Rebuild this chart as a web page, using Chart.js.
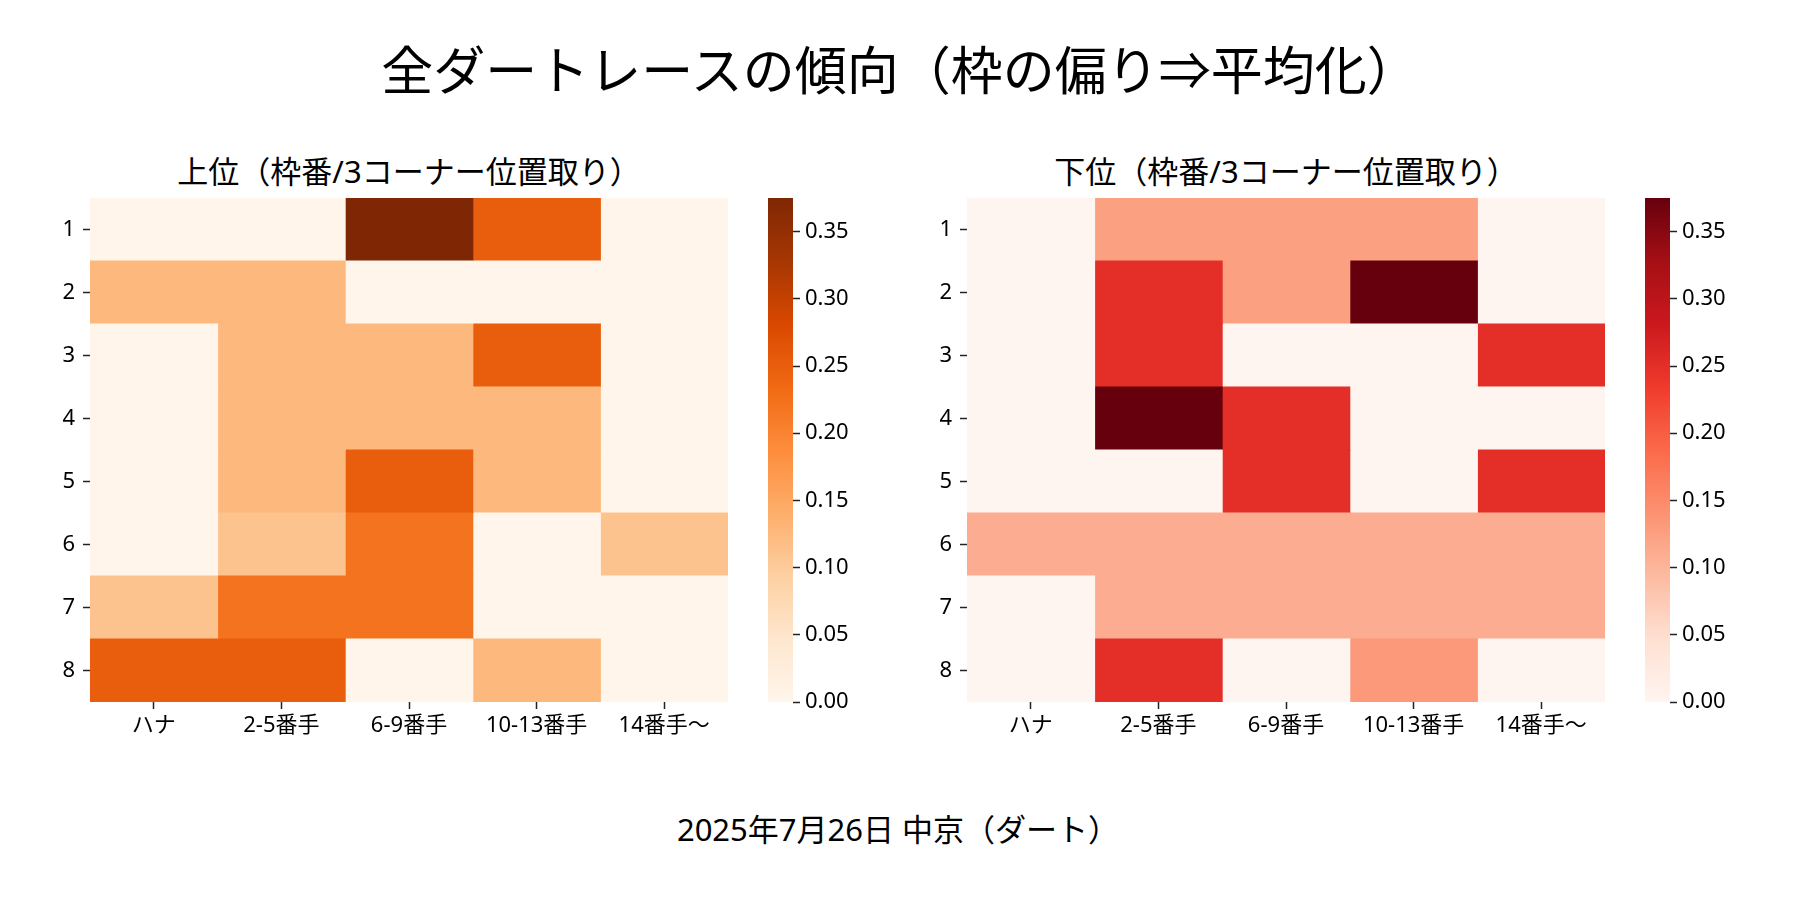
<!DOCTYPE html>
<html>
<head>
<meta charset="utf-8">
<script src="https://cdn.jsdelivr.net/npm/chart.js@4.4.1/dist/chart.umd.min.js"></script>
<style>
  body { margin: 0; background: #fff; font-family: 'Noto Sans', 'Noto Sans CJK JP', sans-serif; }
  #page { position: relative; width: 1800px; height: 900px; overflow: hidden; }
  .box { position: absolute; }
  .box canvas { display: block; }
  .txt { position: absolute; color: #000; white-space: nowrap; transform: translate(-50%, -50%); line-height: 1; }
</style>
</head>
<body>
<div id="page">
  <div class="txt" style="left:900px; top:70px; font-size:52px;">全ダートレースの傾向（枠の偏り⇒平均化）</div>
  <div class="txt" style="left:409px; top:171px; font-size:31px;">上位（枠番/3コーナー位置取り）</div>
  <div class="txt" style="left:1286px; top:171px; font-size:31px;">下位（枠番/3コーナー位置取り）</div>
  <div class="txt" style="left:898px; top:829px; font-size:31px;">2025年7月26日 中京（ダート）</div>

  <div class="box" style="left:20px; top:188px;"><canvas id="heatTop" width="738" height="574"></canvas></div>
  <div class="box" style="left:758px; top:183px;"><canvas id="barTop" width="120" height="534"></canvas></div>
  <div class="box" style="left:897px; top:188px;"><canvas id="heatBottom" width="738" height="574"></canvas></div>
  <div class="box" style="left:1635px; top:183px;"><canvas id="barBottom" width="120" height="534"></canvas></div>
</div>
<script>
// 行（枠番）と列（3コーナー位置取り）
const rowLabels = ['1', '2', '3', '4', '5', '6', '7', '8'];
const colLabels = ['ハナ', '2-5番手', '6-9番手', '10-13番手', '14番手〜'];

// 上位
const topValues = [
    [0, 0, 0.375, 0.25, 0],
    [0.125, 0.125, 0, 0, 0],
    [0, 0.125, 0.125, 0.25, 0],
    [0, 0.125, 0.125, 0.125, 0],
    [0, 0.125, 0.25, 0.125, 0],
    [0, 0.111, 0.222, 0, 0.111],
    [0.111, 0.222, 0.222, 0, 0],
    [0.25, 0.25, 0, 0.125, 0]
];

// 下位
const bottomValues = [
    [0, 0.125, 0.125, 0.125, 0],
    [0, 0.25, 0.125, 0.375, 0],
    [0, 0.25, 0, 0, 0.25],
    [0, 0.375, 0.25, 0, 0],
    [0, 0, 0.25, 0, 0.25],
    [0.111, 0.111, 0.111, 0.111, 0.111],
    [0, 0.111, 0.111, 0.111, 0.111],
    [0, 0.25, 0, 0.133, 0]
];

const colorbarStep = 0.05;

const oranges = ['#fff5eb', '#fee6ce', '#fdd0a2', '#fdae6b', '#fd8d3c', '#f16913', '#d94801', '#a63603', '#7f2704'];
const reds = ['#fff5f0', '#fee0d2', '#fcbba1', '#fc9272', '#fb6a4a', '#ef3b2c', '#cb181d', '#a50f15', '#67000d'];

function hexToRgb(h) {
    return [parseInt(h.slice(1, 3), 16), parseInt(h.slice(3, 5), 16), parseInt(h.slice(5, 7), 16)];
}

function cmap(stops, t) {
    t = Math.max(0, Math.min(1, t));
    const p = t * (stops.length - 1);
    const i = Math.min(Math.floor(p), stops.length - 2);
    const f = p - i;
    const a = hexToRgb(stops[i]), b = hexToRgb(stops[i + 1]);
    const c = a.map((v, k) => Math.round(v + (b[k] - v) * f));
    return 'rgb(' + c.join(',') + ')';
}

const font = { family: "'Noto Sans', 'Noto Sans CJK JP', sans-serif", size: 22 };
const tickGrid = { drawOnChartArea: false, drawTicks: true, tickLength: 7, tickWidth: 1.5, tickColor: '#222', offset: false };

// ラベルのはみ出し分で描画領域が縮まないようにする
function noEdgePadding(scale) {
    scale.paddingTop = 0;
    scale.paddingBottom = 0;
    scale.paddingLeft = 0;
    scale.paddingRight = 0;
}

function drawHeatmap(id, values, stops) {
    const vmax = Math.max(...values.flat());
    const datasets = colLabels.map((c, j) => ({
        label: c,
        data: rowLabels.map(() => [j, j + 1]),
        backgroundColor: values.map(row => cmap(stops, row[j] / vmax)),
        borderWidth: 0,
        inflateAmount: 0.5,
        barPercentage: 1,
        categoryPercentage: 1,
        grouped: false
    }));
    new Chart(document.getElementById(id), {
        type: 'bar',
        data: { labels: rowLabels, datasets: datasets },
        options: {
            indexAxis: 'y',
            responsive: false,
            animation: false,
            layout: { padding: { top: 10, right: 30, left: 0, bottom: 0 } },
            plugins: { legend: { display: false }, tooltip: { enabled: false } },
            scales: {
                x: {
                    type: 'linear',
                    min: 0,
                    max: colLabels.length,
                    border: { display: false },
                    grid: tickGrid,
                    afterBuildTicks: scale => {
                        scale.ticks = colLabels.map((_, j) => ({ value: j + 0.5 }));
                    },
                    afterFit: scale => { scale.height = 60; noEdgePadding(scale); },
                    ticks: {
                        autoSkip: false,
                        maxRotation: 0,
                        padding: 4,
                        color: '#000',
                        font: font,
                        callback: (v, i) => colLabels[i]
                    }
                },
                y: {
                    type: 'category',
                    border: { display: false },
                    grid: tickGrid,
                    afterFit: scale => { scale.width = 70; noEdgePadding(scale); },
                    ticks: { padding: 8, color: '#000', font: font }
                }
            }
        }
    });
    return vmax;
}

function drawColorbar(id, vmax, stops) {
    new Chart(document.getElementById(id), {
        type: 'bar',
        data: {
            labels: [''],
            datasets: [{
                data: [[0, vmax]],
                backgroundColor: ctx => {
                    const area = ctx.chart.chartArea;
                    if (!area) return stops[0];
                    const g = ctx.chart.ctx.createLinearGradient(0, area.bottom, 0, area.top);
                    stops.forEach((s, i) => g.addColorStop(i / (stops.length - 1), s));
                    return g;
                },
                borderWidth: 0,
                barPercentage: 1,
                categoryPercentage: 1
            }]
        },
        options: {
            responsive: false,
            animation: false,
            layout: { padding: { top: 15, bottom: 15, left: 10, right: 0 } },
            plugins: { legend: { display: false }, tooltip: { enabled: false } },
            scales: {
                x: { display: false },
                y: {
                    position: 'right',
                    min: 0,
                    max: vmax,
                    border: { display: false },
                    grid: tickGrid,
                    afterBuildTicks: scale => {
                        scale.ticks = scale.ticks.filter(t => Math.abs(t.value / colorbarStep - Math.round(t.value / colorbarStep)) < 1e-6);
                    },
                    afterFit: scale => { scale.width = 85; noEdgePadding(scale); },
                    ticks: {
                        stepSize: colorbarStep,
                        padding: 5,
                        color: '#000',
                        font: font,
                        callback: v => v.toFixed(2)
                    }
                }
            }
        }
    });
}

window.onload = function () {
    const vTop = drawHeatmap('heatTop', topValues, oranges);
    drawColorbar('barTop', vTop, oranges);
    const vBottom = drawHeatmap('heatBottom', bottomValues, reds);
    drawColorbar('barBottom', vBottom, reds);
};
</script>
</body>
</html>
